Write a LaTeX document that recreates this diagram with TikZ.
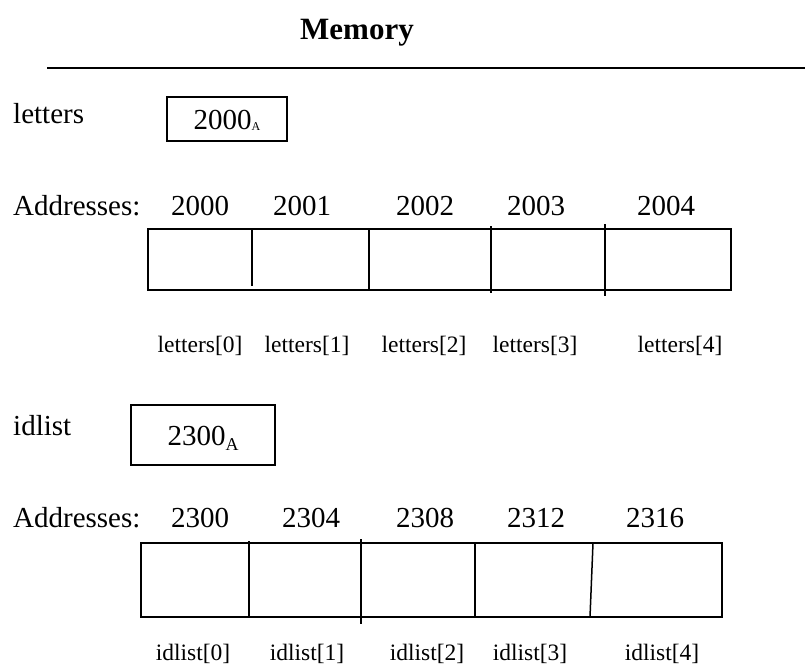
\documentclass[tikz,border=0pt]{standalone}
\usepackage{fontspec}
\setmainfont{Liberation Serif}
\newcommand{\subA}[2]{\raisebox{-#2pt}{\fontsize{#1}{#1}\selectfont A}}
\tikzset{
  big/.style={font=\fontsize{29}{34}\selectfont, inner sep=0pt, anchor=base},
  small/.style={font=\fontsize{23.5}{28}\selectfont, inner sep=0pt, anchor=base},
  ptrbox/.style={draw, line width=1.5pt, inner sep=0pt, text height=20pt, text depth=0pt,
    font=\fontsize{29}{34}\selectfont},
  cellline/.style={line width=1.5pt},
}

\begin{document}
\begin{tikzpicture}[x=1pt,y=-1pt]
  \useasboundingbox (0,0) rectangle (805,666);
  \node[font=\bfseries\fontsize{31}{36}\selectfont, inner sep=0pt, anchor=base] (title) at (357,40) {Memory};
  \coordinate (rulel) at (47,68);
  \coordinate (ruler) at (805,68);
  \draw[line width=2pt] (rulel) -- (ruler);

  % the letters array
  \node[big, anchor=base west] (lname) at (13,124) {letters};
  \node[ptrbox, minimum width=120pt, minimum height=44pt] (lptr) at (227,119) {2000\subA{12}{1}};
  \node[big, anchor=base west] (laddr) at (13,215) {Addresses:};
  \node[big] (la0) at (200,215) {2000};
  \node[big] (la1) at (302,215) {2001};
  \node[big] (la2) at (425,215) {2002};
  \node[big] (la3) at (536,215) {2003};
  \node[big] (la4) at (666,215) {2004};
  \draw[cellline] (148,229) rectangle (731,290);
  \draw[cellline] (252,229) -- (252,286);
  \draw[cellline] (369,229) -- (369,290);
  \draw[cellline] (491,226) -- (491,293);
  \draw[cellline] (605,224) -- (605,296);
  \node[small] (l0) at (200,352) {letters[0]};
  \node[small] (l1) at (307,352) {letters[1]};
  \node[small] (l2) at (424,352) {letters[2]};
  \node[small] (l3) at (535,352) {letters[3]};
  \node[small] (l4) at (680,352) {letters[4]};

  % the idlist array
  \node[big, anchor=base west] (iname) at (13,435) {idlist};
  \node[ptrbox, minimum width=144pt, minimum height=60pt] (iptr) at (203,435) {2300\subA{18}{5}};
  \node[big, anchor=base west] (iaddr) at (13,527) {Addresses:};
  \node[big] (ia0) at (200,527) {2300};
  \node[big] (ia1) at (311,527) {2304};
  \node[big] (ia2) at (425,527) {2308};
  \node[big] (ia3) at (536,527) {2312};
  \node[big] (ia4) at (655,527) {2316};
  \draw[cellline] (141,543) rectangle (722,617);
  \draw[cellline] (249,541) -- (249,617);
  \draw[cellline] (361,539) -- (361,624);
  \draw[cellline] (475,543) -- (475,617);
  \draw[cellline] (593,543) -- (590,617);
  \node[small] (i0) at (193,660) {idlist[0]};
  \node[small] (i1) at (307,660) {idlist[1]};
  \node[small] (i2) at (427,660) {idlist[2]};
  \node[small] (i3) at (530,660) {idlist[3]};
  \node[small] (i4) at (662,660) {idlist[4]};
\end{tikzpicture}
\end{document}
